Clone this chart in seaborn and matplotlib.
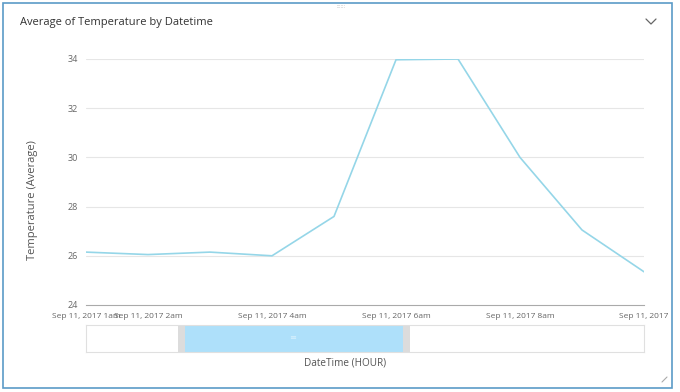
import matplotlib
matplotlib.use("Agg")
import matplotlib.pyplot as plt
import matplotlib.patches as mpatches
import matplotlib.lines as mlines
import seaborn as sns
import pandas as pd

hours = [1, 2, 3, 4, 5, 6, 7, 8, 9, 10]
temps = [26.15, 26.05, 26.15, 26.0, 27.6, 33.97, 34.0, 30.0, 27.05, 25.35]
tick_hours = [1, 2, 4, 6, 8, 10]
tick_labels = ["Sep 11, 2017 1am", "Sep 11, 2017 2am", "Sep 11, 2017 4am",
               "Sep 11, 2017 6am", "Sep 11, 2017 8am", "Sep 11, 2017"]
y_ticks = [24, 26, 28, 30, 32, 34]

sns.set_theme(style="white")
plt.rcParams['font.family'] = ['Open Sans', 'DejaVu Sans']

df = pd.DataFrame({"hour": hours, "temp": temps})

W, H = 680, 392
fig = plt.figure(figsize=(W / 100, H / 100), dpi=100)
fig.patch.set_facecolor("white")

def fx(px):
    return px / W

def fy(py):
    return 1 - py / H

# outer frame
frame = mpatches.Rectangle((fx(3), fy(388)), fx(669), 385 / H, transform=fig.transFigure,
                           fill=False, edgecolor="#5b9bc7", linewidth=1.2)
fig.patches.append(frame)

# drag handle at top
fig.text(fx(341), fy(7), "::::::", fontsize=4, color="#aaaaaa", ha="center", va="center")

# title and chevron
fig.text(fx(20), fy(23), "Average of Temperature by Datetime", fontsize=8,
         color="#333333", va="center", ha="left")
chev = mlines.Line2D([fx(646), fx(651), fx(656)], [fy(19), fy(24), fy(19)],
                     transform=fig.transFigure, color="#666666", linewidth=0.9)
fig.lines.append(chev)

# resize grip
grip = mlines.Line2D([fx(662), fx(667)], [fy(382), fy(377)], transform=fig.transFigure,
                     color="#aaaaaa", linewidth=0.8)
fig.lines.append(grip)

# main axes
x0, x1 = 86, 644
y0, y1 = 59, 305
ax = fig.add_axes([fx(x0), fy(y1), (x1 - x0) / W, (y1 - y0) / H])
sns.lineplot(data=df, x="hour", y="temp", ax=ax, color="#95d6e8", linewidth=1.2)
ax.set_xlim(1, 10)
ax.set_ylim(24, 34)
ax.set_yticks(y_ticks)
ax.set_yticklabels([str(v) for v in y_ticks])
ax.set_xticks(tick_hours)
ax.set_xticklabels(tick_labels)
for v in y_ticks[1:]:
    ax.axhline(v, color="#e6e6e6", linewidth=0.8, zorder=0)
for s in ["top", "right", "left"]:
    ax.spines[s].set_visible(False)
ax.spines["bottom"].set_color("#aaaaaa")
ax.spines["bottom"].set_linewidth(0.8)
ax.tick_params(axis="x", colors="#aaaaaa", length=4, width=0.8, direction="in",
               labelcolor="#666666", labelsize=6.0, pad=6)
ax.tick_params(axis="y", length=0, labelcolor="#666666", labelsize=6.5, pad=6)
ax.set_xlabel("")
ax.set_ylabel("")

fig.text(fx(33), fy(200), "Temperature (Average)", fontsize=8, color="#555555",
         rotation=90, ha="center", va="center")

# slider
sx0, sx1, sy0, sy1 = 86, 644, 325, 352
sl = fig.add_axes([fx(sx0), fy(sy1), (sx1 - sx0) / W, (sy1 - sy0) / H])
sl.set_xlim(sx0, sx1)
sl.set_ylim(0, 1)
sl.set_xticks([])
sl.set_yticks([])
for s in sl.spines.values():
    s.set_color("#e0e0e0")
    s.set_linewidth(0.8)
sl.axvspan(178, 185, color="#dcdcdc", lw=0)
sl.axvspan(185, 403, color="#aee0fa", lw=0)
sl.axvspan(403, 410, color="#dcdcdc", lw=0)
sl.text(293, 0.5, "\u2261", color="#d8f0fd", ha="center", va="center", fontsize=6)

fig.text(fx(345), fy(363), "DateTime (HOUR)", fontsize=7.2, color="#555555",
         ha="center", va="center")

fig.savefig("out.png", dpi=100)
